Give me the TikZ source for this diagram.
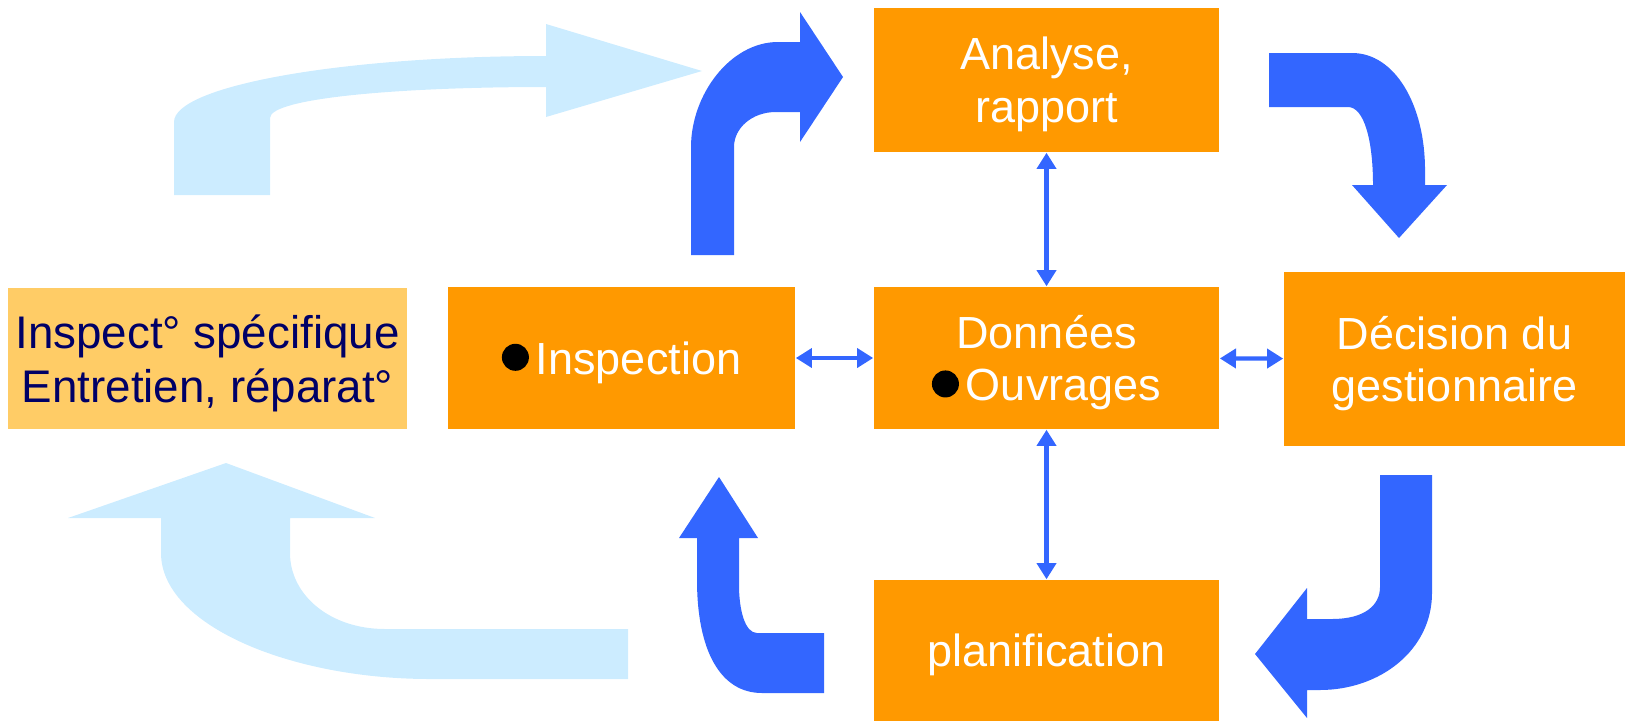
\documentclass[tikz,border=0pt]{standalone}
\usepackage{fontspec}
\setmainfont{Liberation Sans}
\usetikzlibrary{arrows.meta}

\definecolor{orangefonce}{HTML}{FF9900}
\definecolor{orangeclair}{HTML}{FFCC66}
\definecolor{bleufonce}{HTML}{3366FF}
\definecolor{bleuclair}{HTML}{CCECFF}
\definecolor{marine}{HTML}{000066}

% black dot in front of a word
\newcommand{\puce}{\tikz[baseline={(0,-0.17cm)}]\fill[black] (0,0) circle (0.135cm);\hspace{0.07cm}}

\begin{document}
\begin{tikzpicture}[x=0.01cm, y=-0.01cm,
    boite/.style={fill=orangefonce, text=white, inner sep=0pt, text depth=-0.6pt, align=center, font=\fontsize{12.8}{15}\selectfont},
    lien/.style={draw=bleufonce, line width=1.2pt, {Triangle[length=4.6pt,width=5.4pt]}-{Triangle[length=4.6pt,width=5.4pt]}}]
    \useasboundingbox (0,0) rectangle (1625,721);

    % Boxes
    \node[boite, minimum width=3.45cm, minimum height=1.44cm] (analyse) at (1046.5,80) {Analyse,\\rapport};
    \node[boite, minimum width=3.45cm, minimum height=1.42cm] (donnees) at (1046.5,358) {Donn\'ees\\\puce Ouvrages};
    \node[boite, minimum width=3.45cm, minimum height=1.41cm] (planif) at (1046.5,650.5) {planification};
    \node[boite, minimum width=3.47cm, minimum height=1.42cm] (inspection) at (621.5,358) {\puce Inspection};
    \node[boite, minimum width=3.41cm, minimum height=1.74cm] (decision) at (1454.5,359) {D\'ecision du\\gestionnaire};
    \node[fill=orangeclair, text=marine, inner sep=0pt, text depth=-0.6pt, align=center, minimum width=3.99cm, minimum height=1.41cm,
          font=\fontsize{13}{15.4}\selectfont] (specifique) at (207.5,358.5) {Inspect\textdegree{} sp\'ecifique\\Entretien, r\'eparat\textdegree};

    % Links to the data
    \draw[lien] (analyse) -- (donnees);
    \draw[lien] (donnees) -- (planif);
    \draw[lien] (inspection) -- (donnees);
    \draw[lien] (donnees) -- (decision);

    % Cycle arrows
    \fill[bleufonce] (691,255) -- (691,147) .. controls (691,95) and (730,42) .. (778,42) -- (800,42) -- (800,12)
        -- (843,77) -- (800,142) -- (800,112) -- (776,112) .. controls (752,112) and (734,128) .. (734,147) -- (734,255) -- cycle;
    \fill[bleufonce] (1269,53) -- (1352,53) .. controls (1395,53) and (1425,105) .. (1425,170) -- (1425,185) -- (1447,185)
        -- (1399,238) -- (1352,185) -- (1373,185) .. controls (1373,140) and (1364,107) .. (1348,107) -- (1269,107) -- cycle;
    \fill[bleufonce] (1380,475) -- (1432,475) -- (1432,593) .. controls (1432,650) and (1380,690) .. (1320,690) -- (1307,690)
        -- (1307,718) -- (1255,654) -- (1307,588) -- (1307,619) -- (1332,619) .. controls (1365,619) and (1380,605) .. (1380,587) -- cycle;
    \fill[bleufonce] (824,633) -- (757,633) .. controls (745,633) and (739,610) .. (739,585) -- (739,538) -- (758,538)
        -- (719,477) -- (679,538) -- (697,538) -- (697,580) .. controls (697,650) and (720,693) .. (762,693) -- (824,693) -- cycle;

    % Outer loop
    \fill[bleuclair] (174,195) -- (174,122) .. controls (174,86) and (341,56) .. (546,56) -- (546,24) -- (702,71)
        -- (546,117) -- (546,87) .. controls (400,87) and (270,98) .. (270,118) -- (270,195) -- cycle;
    \fill[bleuclair] (628,629) -- (385,629) .. controls (330,629) and (290,595) .. (290,553) -- (290,518) -- (375,518)
        -- (226,463) -- (68,518) -- (161,518) -- (161,553) .. controls (161,625) and (290,679) .. (430,679) -- (628,679) -- cycle;
\end{tikzpicture}
\end{document}
